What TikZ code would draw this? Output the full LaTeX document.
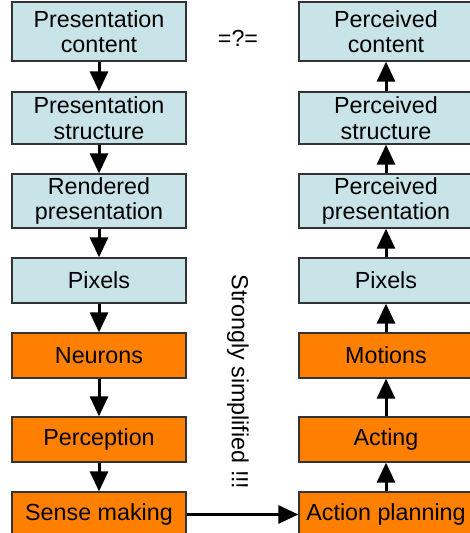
\documentclass[tikz,border=0pt]{standalone}
\usepackage{fontspec}
\setmainfont{Liberation Sans}
\usetikzlibrary{arrows.meta}
\definecolor{lblue}{HTML}{C8E4E8}
\definecolor{dorange}{HTML}{FF8000}
\definecolor{bordergray}{HTML}{333333}
\begin{document}
\begin{tikzpicture}[x=1pt,y=-1pt,
  box/.style={draw=bordergray,line width=1.3pt,minimum width=174pt,inner sep=0pt,align=center,
    font=\fontsize{23.3pt}{25.5pt}\selectfont},
  bluebox/.style={box,fill=lblue},
  orbox/.style={box,fill=dorange},
  conn/.style={line width=3pt,-{Triangle[width=18pt,length=20pt]}},
  lbl/.style={font=\fontsize{23.3pt}{25.5pt}\selectfont,inner sep=0pt}]
\useasboundingbox (0,0) rectangle (469,533);
% left column
\node[bluebox,minimum height=59pt] (l1) at (99,31.5) {Presentation\\content};
\node[bluebox,minimum height=52pt] (l2) at (99,118) {Presentation\\structure};
\node[bluebox,minimum height=54pt] (l3) at (99,201) {Rendered\\presentation};
\node[bluebox,minimum height=45pt] (l4) at (99,280.5) {Pixels};
\node[orbox,minimum height=45pt] (l5) at (99,355.5) {Neurons};
\node[orbox,minimum height=45pt] (l6) at (99,439.5) {Perception};
\node[orbox,minimum height=45pt] (l7) at (99,514.5) {Sense making};
% right column
\node[bluebox,minimum height=59pt] (r1) at (386,31.5) {Perceived\\content};
\node[bluebox,minimum height=52pt] (r2) at (386,118) {Perceived\\structure};
\node[bluebox,minimum height=54pt] (r3) at (386,201) {Perceived\\presentation};
\node[bluebox,minimum height=45pt] (r4) at (386,280.5) {Pixels};
\node[orbox,minimum height=45pt] (r5) at (386,355.5) {Motions};
\node[orbox,minimum height=45pt] (r6) at (386,439.5) {Acting};
\node[orbox,minimum height=45pt] (r7) at (386,514.5) {Action planning};
% labels
\node[lbl] (eq) at (238,38) {=?=};
\node[lbl,rotate=-90] (simp) at (238,382) {Strongly simplified !!!};
% connectors
\draw[conn] (l1) -- (l2);
\draw[conn] (l2) -- (l3);
\draw[conn] (l3) -- (l4);
\draw[conn] (l4) -- (l5);
\draw[conn] (l5) -- (l6);
\draw[conn] (l6) -- (l7);
\draw[conn] (l7) -- (r7);
\draw[conn] (r7) -- (r6);
\draw[conn] (r6) -- (r5);
\draw[conn] (r5) -- (r4);
\draw[conn] (r4) -- (r3);
\draw[conn] (r3) -- (r2);
\draw[conn] (r2) -- (r1);
\end{tikzpicture}
\end{document}
